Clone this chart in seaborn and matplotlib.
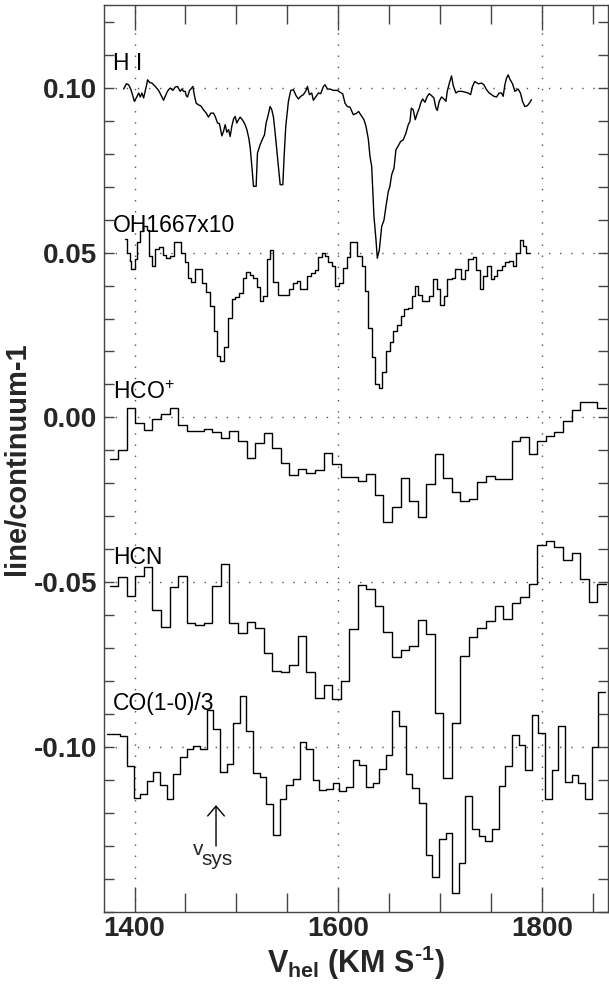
import matplotlib
matplotlib.use("Agg")
import matplotlib.pyplot as plt
import seaborn as sns
from matplotlib.ticker import MultipleLocator, FixedLocator

# ---------------- data ----------------
# H I : velocity (km/s) and line/continuum-1
hi_v = [1389.3, 1391.9, 1394.2, 1396.5, 1398.4, 1399.7, 1401.7, 1404.0, 1405.6, 1407.2,
        1408.9, 1411.5, 1412.8, 1414.8, 1417.1, 1420.3, 1423.6, 1426.2, 1428.5, 1430.1,
        1431.8, 1433.4, 1435.0, 1437.7, 1439.9, 1442.2, 1444.8, 1446.5, 1448.1, 1449.8,
        1450.7, 1452.0, 1454.0, 1455.3, 1457.3, 1458.6, 1460.5, 1462.8, 1465.1, 1467.7,
        1470.4, 1472.6, 1474.9, 1477.5, 1479.2, 1481.5, 1483.4, 1485.7, 1487.4, 1489.0,
        1490.6, 1492.3, 1493.9, 1495.5, 1497.2, 1498.8, 1500.4, 1502.1, 1503.7, 1506.3,
        1508.6, 1510.3, 1512.2, 1513.5, 1515.5, 1516.8, 1519.4, 1520.7, 1523.3, 1526.0,
        1527.6, 1529.2, 1530.9, 1533.1, 1534.8, 1536.4, 1538.1, 1539.7, 1541.3, 1543.0,
        1545.6, 1546.9, 1548.5, 1551.1, 1553.4, 1556.0, 1558.6, 1560.9, 1563.2, 1565.8,
        1568.5, 1569.8, 1571.7, 1574.0, 1575.6, 1578.3, 1580.6, 1582.8, 1585.5, 1587.1,
        1589.4, 1592.0, 1595.3, 1599.2, 1601.8, 1604.4, 1606.7, 1609.0, 1611.6, 1614.9,
        1618.2, 1620.0, 1622.1, 1625.3, 1627.3, 1629.6, 1631.2, 1632.9, 1633.8, 1635.1,
        1637.1, 1638.4, 1640.4, 1642.7, 1645.0, 1646.9, 1649.2, 1650.8, 1652.5, 1654.8,
        1656.7, 1659.0, 1661.3, 1663.9, 1666.5, 1668.8, 1670.5, 1671.8, 1673.7, 1675.7,
        1677.7, 1679.6, 1681.3, 1682.9, 1685.2, 1687.5, 1689.4, 1691.7, 1694.0, 1696.0,
        1697.3, 1699.2, 1701.5, 1703.8, 1705.8, 1707.1, 1709.0, 1711.3, 1713.0, 1715.6,
        1717.9, 1721.1, 1724.4, 1727.7, 1730.0, 1731.9, 1734.2, 1737.5, 1740.8, 1743.1,
        1745.7, 1748.3, 1750.6, 1752.9, 1755.5, 1758.1, 1760.4, 1762.0, 1763.7, 1765.3,
        1766.9, 1768.6, 1771.2, 1773.5, 1776.7, 1779.0, 1781.0, 1783.3, 1785.6, 1788.2,
        1789.8]
hi_val = [0.0996, 0.1012, 0.1009, 0.0994, 0.0974, 0.0959, 0.0969, 0.0984, 0.0972, 0.0984,
          0.0969, 0.1004, 0.1024, 0.1016, 0.1014, 0.1004, 0.0992, 0.0976, 0.0962, 0.0974,
          0.0986, 0.0994, 0.0999, 0.0992, 0.1002, 0.1004, 0.0989, 0.0996, 0.0989, 0.0989,
          0.0976, 0.0972, 0.0992, 0.0996, 0.1004, 0.0979, 0.0953, 0.0948, 0.0945, 0.0933,
          0.0923, 0.0911, 0.0923, 0.0923, 0.0913, 0.0893, 0.0891, 0.0854, 0.0868, 0.0888,
          0.0865, 0.0873, 0.0852, 0.0883, 0.0905, 0.0913, 0.0893, 0.0903, 0.0911, 0.0901,
          0.0888, 0.0873, 0.0847, 0.0820, 0.0751, 0.0701, 0.0701, 0.0802, 0.0827, 0.0847,
          0.0857, 0.0893, 0.0913, 0.0943, 0.0933, 0.0911, 0.0862, 0.0812, 0.0761, 0.0706,
          0.0706, 0.0792, 0.0883, 0.0959, 0.0992, 0.0994, 0.0976, 0.0966, 0.0974, 0.0979,
          0.0992, 0.1004, 0.0979, 0.0984, 0.0962, 0.0974, 0.0984, 0.0982, 0.1004, 0.1009,
          0.0996, 0.0996, 0.0992, 0.0992, 0.0986, 0.0982, 0.0953, 0.0943, 0.0941, 0.0918,
          0.0923, 0.0928, 0.0918, 0.0903, 0.0883, 0.0844, 0.0792, 0.0761, 0.0701, 0.0610,
          0.0539, 0.0483, 0.0508, 0.0579, 0.0599, 0.0640, 0.0685, 0.0701, 0.0736, 0.0756,
          0.0812, 0.0824, 0.0837, 0.0842, 0.0862, 0.0888, 0.0898, 0.0938, 0.0933, 0.0903,
          0.0923, 0.0938, 0.0956, 0.0966, 0.0956, 0.0974, 0.0982, 0.0976, 0.0969, 0.0938,
          0.0931, 0.0959, 0.0972, 0.0966, 0.0959, 0.0989, 0.1012, 0.1036, 0.1006, 0.0984,
          0.0989, 0.0989, 0.0987, 0.0984, 0.0979, 0.1004, 0.1019, 0.1012, 0.1014, 0.1009,
          0.0994, 0.0984, 0.0979, 0.0974, 0.0972, 0.0984, 0.0984, 0.0974, 0.1009, 0.1029,
          0.1039, 0.1026, 0.1012, 0.0989, 0.0996, 0.0984, 0.0959, 0.0943, 0.0945, 0.0955,
          0.0964]

# OH 1667 x10 : channel edges and channel values
oh_edges = [1390.9, 1392.5, 1395.1, 1396.8, 1400.0, 1402.3, 1405.6, 1408.2, 1412.1, 1413.8,
            1417.1, 1420.3, 1423.6, 1427.8, 1431.1, 1435.0, 1438.3, 1445.8, 1449.1, 1452.4,
            1455.6, 1459.6, 1466.1, 1470.4, 1473.6, 1477.6, 1480.8, 1484.1, 1488.0, 1491.3,
            1495.5, 1498.8, 1502.1, 1506.3, 1509.6, 1513.5, 1516.8, 1520.1, 1523.3, 1526.6,
            1529.9, 1533.1, 1536.4, 1541.3, 1552.1, 1555.4, 1559.3, 1562.6, 1569.1, 1573.0,
            1577.3, 1580.6, 1583.8, 1587.1, 1590.4, 1593.6, 1596.9, 1601.1, 1604.4, 1608.3,
            1611.6, 1618.2, 1623.1, 1626.3, 1629.6, 1632.9, 1636.1, 1640.4, 1643.3, 1646.9,
            1650.8, 1654.1, 1658.0, 1661.3, 1664.6, 1668.8, 1672.1, 1675.4, 1678.6, 1681.9,
            1689.4, 1692.7, 1696.6, 1699.9, 1703.8, 1707.1, 1711.3, 1714.6, 1720.2, 1724.4,
            1727.7, 1731.9, 1735.2, 1739.1, 1742.4, 1745.7, 1749.6, 1752.9, 1756.1, 1760.4,
            1763.7, 1767.9, 1771.2, 1774.5, 1778.4, 1781.7, 1784.9, 1788.2]
oh_val = [0.0541, 0.0500, 0.0473, 0.0450, 0.0480, 0.0531, 0.0564, 0.0581, 0.0569, 0.0490,
          0.0460, 0.0510, 0.0518, 0.0493, 0.0483, 0.0490, 0.0531, 0.0500, 0.0470, 0.0422,
          0.0412, 0.0450, 0.0409, 0.0379, 0.0338, 0.0261, 0.0185, 0.0170, 0.0213, 0.0301,
          0.0359, 0.0365, 0.0377, 0.0422, 0.0440, 0.0433, 0.0422, 0.0397, 0.0352, 0.0369,
          0.0480, 0.0508, 0.0412, 0.0372, 0.0389, 0.0409, 0.0415, 0.0389, 0.0429, 0.0438,
          0.0448, 0.0488, 0.0500, 0.0490, 0.0470, 0.0458, 0.0399, 0.0409, 0.0453, 0.0488,
          0.0531, 0.0490, 0.0460, 0.0382, 0.0271, 0.0183, 0.0102, 0.0089, 0.0139, 0.0200,
          0.0230, 0.0261, 0.0281, 0.0308, 0.0328, 0.0331, 0.0369, 0.0399, 0.0372, 0.0352,
          0.0369, 0.0419, 0.0389, 0.0341, 0.0369, 0.0419, 0.0422, 0.0450, 0.0419, 0.0448,
          0.0480, 0.0488, 0.0448, 0.0389, 0.0429, 0.0460, 0.0419, 0.0429, 0.0448, 0.0460,
          0.0470, 0.0473, 0.0460, 0.0500, 0.0539, 0.0520, 0.0500]

# HCO+ and HCN share the same channel grid
mm_edges = [1375.6, 1384.0, 1392.4, 1400.8, 1409.2, 1417.6, 1426.0, 1434.4, 1442.8, 1451.2,
            1459.6, 1468.0, 1476.4, 1484.8, 1493.2, 1501.6, 1510.0, 1518.4, 1526.8, 1535.2,
            1543.6, 1552.0, 1560.4, 1568.8, 1577.2, 1585.6, 1594.0, 1602.4, 1610.8, 1619.2,
            1627.6, 1636.0, 1644.4, 1652.8, 1661.2, 1669.6, 1678.0, 1686.4, 1694.8, 1703.2,
            1711.6, 1720.0, 1728.4, 1736.8, 1745.2, 1753.6, 1762.0, 1770.4, 1778.8, 1787.2,
            1795.6, 1804.0, 1812.4, 1820.8, 1829.2, 1837.6, 1846.0, 1854.4, 1862.8]
hco_val = [-0.0126, -0.0099, 0.0030, -0.0018, -0.0038, -0.0006, 0.0011, 0.0030, -0.0023, -0.0041,
           -0.0040, -0.0035, -0.0043, -0.0063, -0.0042, -0.0070, -0.0124, -0.0078, -0.0046, -0.0094,
           -0.0139, -0.0175, -0.0157, -0.0169, -0.0159, -0.0107, -0.0142, -0.0180, -0.0182, -0.0192,
           -0.0171, -0.0235, -0.0316, -0.0271, -0.0183, -0.0252, -0.0303, -0.0203, -0.0112, -0.0185,
           -0.0225, -0.0252, -0.0247, -0.0195, -0.0177, -0.0188, -0.0188, -0.0073, -0.0058, -0.0112,
           -0.0070, -0.0055, -0.0043, -0.0011, 0.0023, 0.0048, 0.0048, 0.0030]
hcn_val = [-0.0511, -0.0483, -0.0542, -0.0481, -0.0455, -0.0584, -0.0635, -0.0513, -0.0480, -0.0622,
           -0.0630, -0.0625, -0.0511, -0.0445, -0.0622, -0.0655, -0.0619, -0.0640, -0.0713, -0.0768,
           -0.0773, -0.0751, -0.0662, -0.0773, -0.0852, -0.0812, -0.0854, -0.0800, -0.0642, -0.0509,
           -0.0521, -0.0571, -0.0652, -0.0728, -0.0706, -0.0693, -0.0613, -0.0657, -0.0895, -0.1095,
           -0.0928, -0.0724, -0.0667, -0.0638, -0.0617, -0.0571, -0.0610, -0.0562, -0.0544, -0.0506,
           -0.0387, -0.0375, -0.0394, -0.0433, -0.0410, -0.0489, -0.0559, -0.0506]

# CO(1-0)/3
co_edges = [1372.9, 1379.4, 1385.9, 1392.5, 1399.0, 1405.5, 1412.0, 1418.5, 1425.1, 1431.6,
            1438.1, 1444.6, 1451.1, 1457.7, 1464.2, 1470.7, 1477.2, 1483.7, 1490.3, 1496.8,
            1503.3, 1509.8, 1516.3, 1522.9, 1529.4, 1535.9, 1542.4, 1548.9, 1555.5, 1562.0,
            1568.5, 1575.0, 1581.5, 1588.1, 1594.6, 1601.1, 1607.6, 1614.1, 1620.7, 1627.2,
            1633.7, 1640.2, 1646.7, 1653.3, 1659.8, 1666.3, 1672.8, 1679.3, 1685.9, 1692.4,
            1698.9, 1705.4, 1711.9, 1718.5, 1725.0, 1731.5, 1738.0, 1744.5, 1751.1, 1757.6,
            1764.1, 1770.6, 1777.1, 1783.7, 1790.2, 1796.7, 1803.2, 1809.7, 1816.3, 1822.8,
            1829.3, 1835.8, 1842.3, 1848.9, 1855.4, 1861.9]
co_val = [-0.0960, -0.0960, -0.0965, -0.1058, -0.1153, -0.1141, -0.1102, -0.1075, -0.1115, -0.1158,
          -0.1083, -0.1029, -0.1007, -0.0996, -0.1007, -0.0888, -0.0946, -0.1075, -0.1050, -0.0928,
          -0.0844, -0.0951, -0.1080, -0.1090, -0.1171, -0.1267, -0.1156, -0.1115, -0.1098, -0.0984,
          -0.1007, -0.1100, -0.1130, -0.1128, -0.1110, -0.1133, -0.1120, -0.1039, -0.1055, -0.1122,
          -0.1110, -0.1067, -0.1024, -0.0890, -0.0936, -0.1082, -0.1125, -0.1169, -0.1328, -0.1393,
          -0.1280, -0.1260, -0.1442, -0.1350, -0.1147, -0.1247, -0.1270, -0.1284, -0.1249, -0.1118,
          -0.1058, -0.0962, -0.0994, -0.1068, -0.0903, -0.0956, -0.1156, -0.1068, -0.0936, -0.1105,
          -0.1085, -0.1110, -0.1156, -0.0999, -0.0832]

labels = ["H I", "OH1667x10", "HCO$^{+}$", "HCN", "CO(1-0)/3"]
label_y = [0.1055, 0.0563, 0.0056, -0.0445, -0.0888]
label_x = 1379.0
v_sys = 1480.0
y_ticks = [-0.10, -0.05, 0.00, 0.05, 0.10]
y_ticklabels = ["-0.10", "-0.05", "0.00", "0.05", "0.10"]
x_ticks = [1400, 1600, 1800]
x_ticklabels = ["1400", "1600", "1800"]

# ---------------- style ----------------
sns.set_style("ticks")
plt.rcParams["font.family"] = ["Liberation Sans", "DejaVu Sans"]
plt.rcParams["mathtext.fontset"] = "custom"
plt.rcParams["mathtext.rm"] = "Liberation Sans"
plt.rcParams["mathtext.it"] = "Liberation Sans:italic"
plt.rcParams["mathtext.bf"] = "Liberation Sans:bold"

fig = plt.figure(figsize=(6.09, 9.84), dpi=100)
ax = fig.add_axes([0.1708, 0.0732, 0.8276, 0.9214])

line_kw = dict(color="black", linewidth=1.0, estimator=None, ax=ax, legend=False)

sns.lineplot(x=hi_v, y=hi_val, **line_kw)


def stairs(edges, vals):
    return edges, list(vals) + [vals[-1]]


for edges, vals in [(oh_edges, oh_val), (mm_edges, hco_val), (mm_edges, hcn_val), (co_edges, co_val)]:
    xs, ys = stairs(edges, vals)
    sns.lineplot(x=xs, y=ys, drawstyle="steps-post", **line_kw)

ax.set_xlim(1370, 1865)
ax.set_ylim(-0.150, 0.125)

ax.xaxis.set_major_locator(FixedLocator(x_ticks))
ax.set_xticklabels(x_ticklabels)
ax.xaxis.set_minor_locator(MultipleLocator(50))
ax.yaxis.set_major_locator(FixedLocator(y_ticks))
ax.set_yticklabels(y_ticklabels)
ax.yaxis.set_minor_locator(MultipleLocator(0.01))

tick_col = "#444444"
ax.tick_params(which="both", direction="in", top=True, right=True, color=tick_col, width=1.0)
ax.tick_params(axis="x", which="major", length=18, labelsize=20, pad=3)
ax.tick_params(axis="x", which="minor", length=14)
ax.tick_params(axis="y", which="both", length=7, labelsize=20, pad=5)
for lab in ax.get_xticklabels() + ax.get_yticklabels():
    lab.set_fontweight("bold")
for sp in ax.spines.values():
    sp.set_color(tick_col)
    sp.set_linewidth(1.0)

ax.grid(True, which="major", linestyle=(0, (1, 7)), color="#555555", linewidth=1.0)

ax.set_ylabel("line/continuum-1", fontsize=21, fontweight="bold", labelpad=2)
ax.set_xlabel("V$_{\\mathbf{hel}}$ (KM S$^{\\mathbf{\u2010 1}}$)", fontsize=22, fontweight="bold",
              labelpad=1)

for t, ly in zip(labels, label_y):
    ax.text(label_x, ly, t, fontsize=16.5, ha="left", va="baseline", color="black")

ax.annotate("", xy=(v_sys, -0.1176), xytext=(v_sys, -0.1300),
            arrowprops=dict(arrowstyle="->,head_length=0.7,head_width=0.6", lw=1.0, color="black",
                            shrinkA=0, shrinkB=0))
ax.text(1457.0, -0.1328, "v", fontsize=15, ha="left", va="baseline")
ax.text(1465.5, -0.1358, "sys", fontsize=15, ha="left", va="baseline")

fig.savefig("out.png", dpi=100)
